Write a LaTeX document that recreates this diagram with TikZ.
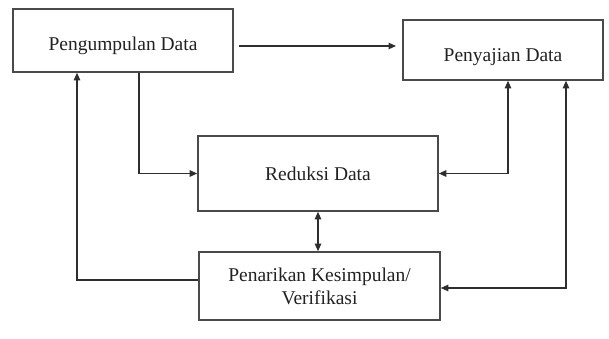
\documentclass[tikz,border=0pt]{standalone}
\usepackage{fontspec}
\setmainfont{Liberation Serif}
\usetikzlibrary{arrows.meta}
\definecolor{boxline}{HTML}{4A4A4A}
\definecolor{conline}{HTML}{2E2E2E}
\definecolor{txt}{HTML}{222222}
\tikzset{
  procbox/.style={draw=boxline, line width=1.6pt, fill=white, inner sep=0pt,
    align=center, text=txt, font=\fontsize{19.5}{23}\selectfont},
  tip/.style={Triangle[length=7.5pt,width=6.5pt]},
  arr/.style={draw=conline, line width=1.1pt, -{Triangle[length=7.5pt,width=6.5pt]}},
  arrtwo/.style={draw=conline, line width=1.1pt, {Triangle[length=7.5pt,width=6.5pt]}-{Triangle[length=7.5pt,width=6.5pt]}}
}
\begin{document}
\begin{tikzpicture}[x=1pt,y=-1pt]
\useasboundingbox (0,0) rectangle (609,339);
\node[procbox, minimum width=220pt, minimum height=63pt, text height=20pt, text depth=0pt] (kum) at (123,40.5) {Pengumpulan Data};
\node[procbox, minimum width=200pt, minimum height=60pt, text height=24pt, text depth=0pt] (saji) at (503,50) {Penyajian Data};
\node[procbox, minimum width=240pt, minimum height=75pt] (red) at (318,173.5) {Reduksi Data};
\node[procbox, minimum width=241pt, minimum height=68pt] (tarik) at (319.5,286) {Penarikan Kesimpulan/\\Verifikasi};
\coordinate (a1) at (239,46);
\coordinate (a2) at (396,46);
\draw[arr] (a1) -- (a2);
\draw[arr] ([xshift=16pt]kum.south) |- (red.west);
\draw[arrtwo] (red.east) -| ([xshift=5pt]saji.south);
\draw[arrtwo] ([xshift=63pt]saji.south) |- ([yshift=-2pt]tarik.east);
\draw[arrtwo] (red.south) -- (red.south |- tarik.north);
\draw[arr] ([yshift=6pt]tarik.west) -| ([xshift=-46pt]kum.south);
\end{tikzpicture}
\end{document}
